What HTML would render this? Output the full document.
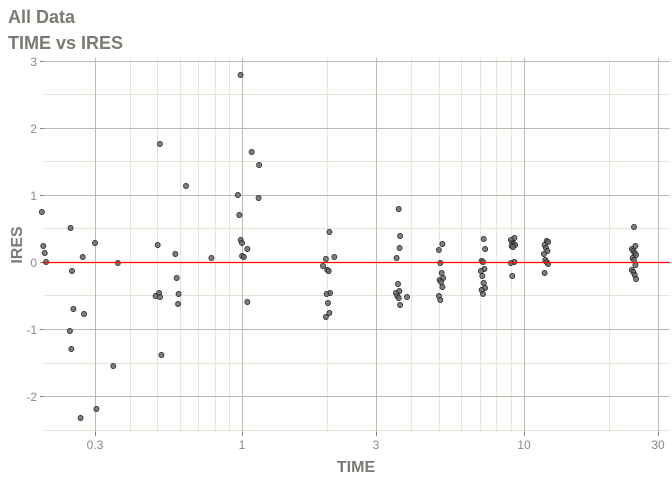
<!DOCTYPE html>
<html><head><meta charset="utf-8"><style>body{margin:0;background:#fff}svg{display:block}</style></head><body>
<svg width="672" height="480" xmlns="http://www.w3.org/2000/svg" font-family="Liberation Sans, sans-serif">
<rect width="672" height="480" fill="#fff"/>
<text x="8" y="23" font-size="18" font-weight="bold" fill="#7b7b73">All Data</text>
<text x="8" y="49" font-size="18" font-weight="bold" fill="#7b7b73">TIME vs IRES</text>
<g stroke="#e6e6d6" stroke-width="1">
<line x1="44" x2="670" y1="94.5" y2="94.5"/><line x1="44" x2="670" y1="161.5" y2="161.5"/><line x1="44" x2="670" y1="228.5" y2="228.5"/><line x1="44" x2="670" y1="295.5" y2="295.5"/><line x1="44" x2="670" y1="363.5" y2="363.5"/><line x1="44" x2="670" y1="430.5" y2="430.5"/>
<line x1="130.5" x2="130.5" y1="58" y2="432"/><line x1="157.5" x2="157.5" y1="58" y2="432"/><line x1="180.5" x2="180.5" y1="58" y2="432"/><line x1="198.5" x2="198.5" y1="58" y2="432"/><line x1="215.5" x2="215.5" y1="58" y2="432"/><line x1="229.5" x2="229.5" y1="58" y2="432"/><line x1="327.5" x2="327.5" y1="58" y2="432"/><line x1="411.5" x2="411.5" y1="58" y2="432"/><line x1="439.5" x2="439.5" y1="58" y2="432"/><line x1="461.5" x2="461.5" y1="58" y2="432"/><line x1="480.5" x2="480.5" y1="58" y2="432"/><line x1="496.5" x2="496.5" y1="58" y2="432"/><line x1="511.5" x2="511.5" y1="58" y2="432"/><line x1="609.5" x2="609.5" y1="58" y2="432"/>
</g>
<g stroke="#bcbcb0" stroke-width="1">
<line x1="44" x2="670" y1="61.5" y2="61.5"/><line x1="44" x2="670" y1="128.5" y2="128.5"/><line x1="44" x2="670" y1="195.5" y2="195.5"/><line x1="44" x2="670" y1="262.5" y2="262.5"/><line x1="44" x2="670" y1="329.5" y2="329.5"/><line x1="44" x2="670" y1="396.5" y2="396.5"/>
<line x1="95.5" x2="95.5" y1="58" y2="432"/><line x1="242.5" x2="242.5" y1="58" y2="432"/><line x1="376.5" x2="376.5" y1="58" y2="432"/><line x1="524.5" x2="524.5" y1="58" y2="432"/><line x1="658.5" x2="658.5" y1="58" y2="432"/>
</g>
<g stroke="#888" stroke-width="1">
<line x1="40" x2="44" y1="61.5" y2="61.5"/><line x1="40" x2="44" y1="128.5" y2="128.5"/><line x1="40" x2="44" y1="195.5" y2="195.5"/><line x1="40" x2="44" y1="262.5" y2="262.5"/><line x1="40" x2="44" y1="329.5" y2="329.5"/><line x1="40" x2="44" y1="396.5" y2="396.5"/>
<line x1="95.5" x2="95.5" y1="432" y2="436"/><line x1="242.5" x2="242.5" y1="432" y2="436"/><line x1="376.5" x2="376.5" y1="432" y2="436"/><line x1="524.5" x2="524.5" y1="432" y2="436"/><line x1="658.5" x2="658.5" y1="432" y2="436"/>
</g>
<g font-size="12" fill="#8a8a80" text-anchor="end">
<text x="37" y="66">3</text><text x="37" y="133">2</text><text x="37" y="200">1</text><text x="37" y="267">0</text><text x="37" y="334">-1</text><text x="37" y="401">-2</text>
</g>
<g font-size="12" fill="#8a8a80" text-anchor="middle">
<text x="95" y="449">0.3</text><text x="242" y="449">1</text><text x="376" y="449">3</text><text x="524" y="449">10</text><text x="658" y="449">30</text>
</g>
<text x="356" y="472" font-size="16" font-weight="bold" fill="#7b7b73" text-anchor="middle">TIME</text>
<text transform="translate(22,245) rotate(-90)" font-size="16" font-weight="bold" fill="#7b7b73" text-anchor="middle">IRES</text>
<g fill="#666" fill-opacity="0.85" stroke="#222" stroke-width="0.7" id="pts"></g>
<line x1="44" x2="670" y1="262.5" y2="262.5" stroke="#f00" stroke-width="1.3"/>
</svg>
<script>
var d=[[44,[212,246,253,262]],[72,[228,271,309,331,349]],[82,[257,314,418]],[95,[243,409]],[120,[263]],[114,[366]],[157,[245,293,296]],[160,[297,355]],[162,[144]],[176,[254,278,304]],[180,[294]],[186,[186]],[210,[258]],[240,[195,215,240,256]],[242,[75,243]],[246,[249,257]],[248,[302]],[251,[152]],[257,[165]],[260,[198]],[323,[266]],[328,[232,259,270,271,293,294,303,313,317]],[335,[257]],[398,[209,236,258,284,291,293,296,298,305]],[401,[248]],[407,[297]],[441,[244,250,263,273,278,280,282,287,296,300]],[483,[239,249,261,262,269,271,276,283,288,290,294]],[513,[238,240,243,244,245,246,247,262,263,276]],[546,[241,242,245,248,251,254,260,262,264,273]],[634,[227,246,249,251,253,255,258,260,265,270,272,275,279]]];
var g=document.getElementById('pts'),s='',k=0;
d.forEach(function(p){p[1].forEach(function(y){var j=((k++*37)%7-3)*0.7;s+='<circle cx="'+(p[0]+j)+'" cy="'+y+'" r="2.6"/>';});});
g.innerHTML=s;
</script>
</body></html>
